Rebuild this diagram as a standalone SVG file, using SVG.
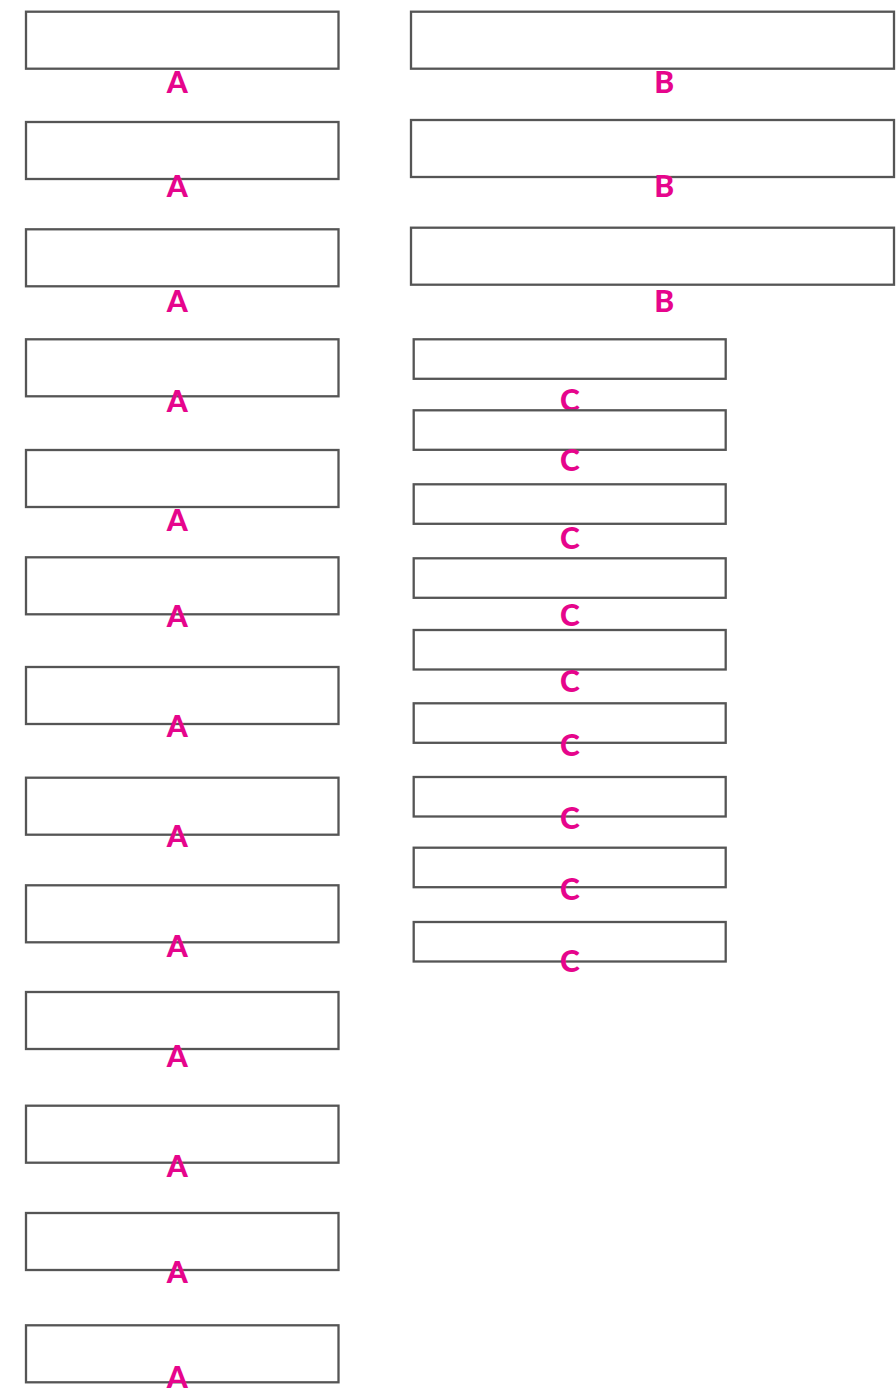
<svg xmlns="http://www.w3.org/2000/svg" width="896" height="1389" viewBox="0 0 896 1389">
<style>
.box{fill:none;stroke:#555555;stroke-width:2.3}
.lbl{font-family:Lato,"Liberation Sans",sans-serif;font-weight:900;font-size:30px;fill:#e6058c;text-anchor:middle}
</style>
<rect width="896" height="1389" fill="#ffffff"/>
<g id="connectors"></g>
<g id="a1"><rect class="box" x="26" y="11.7" width="312.5" height="57"/><text class="lbl" x="177.3" y="93.3">A</text></g>
<g id="a2"><rect class="box" x="26" y="122" width="312.5" height="57"/><text class="lbl" x="177.3" y="196.5">A</text></g>
<g id="a3"><rect class="box" x="26" y="229.3" width="312.5" height="57"/><text class="lbl" x="177.3" y="311.7">A</text></g>
<g id="a4"><rect class="box" x="26" y="339.3" width="312.5" height="57"/><text class="lbl" x="177.3" y="412">A</text></g>
<g id="a5"><rect class="box" x="26" y="450" width="312.5" height="57"/><text class="lbl" x="177.3" y="530.7">A</text></g>
<g id="a6"><rect class="box" x="26" y="557.3" width="312.5" height="57"/><text class="lbl" x="177.3" y="626.7">A</text></g>
<g id="a7"><rect class="box" x="26" y="667" width="312.5" height="57"/><text class="lbl" x="177.3" y="736.7">A</text></g>
<g id="a8"><rect class="box" x="26" y="777.7" width="312.5" height="57"/><text class="lbl" x="177.3" y="846.7">A</text></g>
<g id="a9"><rect class="box" x="26" y="885.3" width="312.5" height="57"/><text class="lbl" x="177.3" y="956.7">A</text></g>
<g id="a10"><rect class="box" x="26" y="992" width="312.5" height="57"/><text class="lbl" x="177.3" y="1066.7">A</text></g>
<g id="a11"><rect class="box" x="26" y="1105.7" width="312.5" height="57"/><text class="lbl" x="177.3" y="1176.7">A</text></g>
<g id="a12"><rect class="box" x="26" y="1213" width="312.5" height="57"/><text class="lbl" x="177.3" y="1282.7">A</text></g>
<g id="a13"><rect class="box" x="26" y="1325.3" width="312.5" height="57"/><text class="lbl" x="177.3" y="1388">A</text></g>
<g id="b1"><rect class="box" x="411" y="11.7" width="483" height="57"/><text class="lbl" x="664.3" y="92.7">B</text></g>
<g id="b2"><rect class="box" x="411" y="120" width="483" height="57"/><text class="lbl" x="664.3" y="196.7">B</text></g>
<g id="b3"><rect class="box" x="411" y="227.7" width="483" height="57"/><text class="lbl" x="664.3" y="311.7">B</text></g>
<g id="c1"><rect class="box" x="413.7" y="339.3" width="312" height="39.5"/><text class="lbl" x="570" y="411.2">C</text></g>
<g id="c2"><rect class="box" x="413.7" y="410.3" width="312" height="39.5"/><text class="lbl" x="570" y="471.2">C</text></g>
<g id="c3"><rect class="box" x="413.7" y="484.3" width="312" height="39.5"/><text class="lbl" x="570" y="548.5">C</text></g>
<g id="c4"><rect class="box" x="413.7" y="558.3" width="312" height="39.5"/><text class="lbl" x="570" y="626.2">C</text></g>
<g id="c5"><rect class="box" x="413.7" y="630" width="312" height="39.5"/><text class="lbl" x="570" y="691.8">C</text></g>
<g id="c6"><rect class="box" x="413.7" y="703.3" width="312" height="39.5"/><text class="lbl" x="570" y="756.2">C</text></g>
<g id="c7"><rect class="box" x="413.7" y="777" width="312" height="39.5"/><text class="lbl" x="570" y="828.5">C</text></g>
<g id="c8"><rect class="box" x="413.7" y="847.7" width="312" height="39.5"/><text class="lbl" x="570" y="900.2">C</text></g>
<g id="c9"><rect class="box" x="413.7" y="922" width="312" height="39.5"/><text class="lbl" x="570" y="972.2">C</text></g>
</svg>
